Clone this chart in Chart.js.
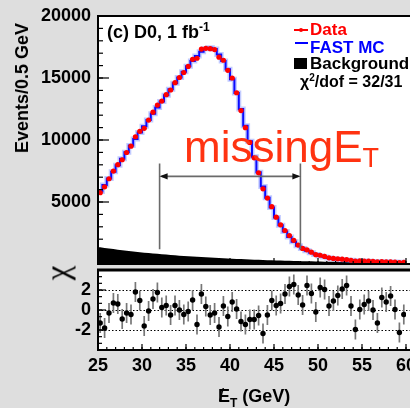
<!DOCTYPE html>
<html><head><meta charset="utf-8">
<script src="https://cdn.jsdelivr.net/npm/chart.js@4.4.1/dist/chart.umd.min.js"></script>
<style>
html,body{margin:0;padding:0;background:#dedede;}
#wrap{position:relative;width:410px;height:408px;overflow:hidden;background:#dedede;font-family:"Liberation Sans",Arial,sans-serif;}
canvas{position:absolute;left:0;}
.t{position:absolute;white-space:nowrap;line-height:1;}
.b{font-weight:bold;}
.mk{position:absolute;}
</style></head><body>
<div id="wrap">
<canvas id="topc" width="410" height="268" style="top:0px"></canvas>
<canvas id="chic" width="410" height="142" style="top:266px"></canvas>

<div class="t b" style="left:22px;top:88px;font-size:18px;transform:translate(-50%,-50%) rotate(-90deg);">Events/0.5 GeV</div>
<div class="t" style="left:58px;top:273px;font-size:33px;font-family:'Liberation Serif',serif;transform:translate(-50%,-50%) rotate(-90deg);">χ</div>

<div class="t b" style="left:107px;top:23px;font-size:18px;">(c) D0, 1 fb<span style="font-size:12px;position:relative;top:-7px;">-1</span></div>

<div class="mk" style="left:294px;top:29px;width:14px;height:2px;background:#ff0000;"></div>
<div class="mk" style="left:299px;top:28px;width:4px;height:4px;border-radius:2px;background:#ff0000;"></div>
<div class="t b" style="left:310px;top:20.6px;font-size:17px;color:#ff0000;">Data</div>
<div class="mk" style="left:295px;top:42px;width:13px;height:2px;background:#0000ff;"></div>
<div class="t b" style="left:310px;top:38.8px;font-size:17px;color:#0000ff;">FAST MC</div>
<div class="mk" style="left:294px;top:58px;width:13px;height:11px;background:#000;"></div>
<div class="t b" style="left:310px;top:54.5px;font-size:17px;color:#000;">Background</div>
<div class="t b" style="left:300px;top:73.5px;font-size:16px;color:#000;">χ<span style="font-size:10px;position:relative;top:-6px;">2</span>/dof = 32/31</div>

<div class="t" style="left:184px;top:125px;font-size:44px;color:#ff3311;">missingE<span style="font-size:27px;position:relative;top:5px;">T</span></div>

<div class="t b" style="left:218px;top:387px;font-size:18px;"><span style="position:relative;">E<span style="position:absolute;left:1px;top:0px;font-weight:normal;">/</span></span><span style="font-size:12px;position:relative;top:5px;">T</span> (GeV)</div>
</div>
<script>
// ---------------- data ----------------
const binCenters = [25.25,25.75,26.25,26.75,27.25,27.75,28.25,28.75,29.25,29.75,
30.25,30.75,31.25,31.75,32.25,32.75,33.25,33.75,34.25,34.75,
35.25,35.75,36.25,36.75,37.25,37.75,38.25,38.75,39.25,39.75,
40.25,40.75,41.25,41.75,42.25,42.75,43.25,43.75,44.25,44.75,
45.25,45.75,46.25,46.75,47.25,47.75,48.25,48.75,49.25,49.75,
50.25,50.75,51.25,51.75,52.25,52.75,53.25,53.75,54.25,54.75,
55.25,55.75,56.25,56.75,57.25,57.75,58.25,58.75,59.25,59.75];
const dataCounts = [5751,6226,6875,7490,8014,8407,8991,9506,10261,10698,
10941,11609,12241,12817,13139,13652,14031,14624,15040,15444,
15931,16508,16592,17329,17396,17364,17291,16679,16431,15619,
14998,13812,12371,10996,9806,8562,7353,6064,5313,4625,
3777,3156,2702,2290,1907,1527,1258,1141,950,754,
706,609,499,449,414,390,364,302,240,253,
243,234,206,176,200,183,182,157,122,137];
const fastMC = [5850,6370,6900,7430,7960,8490,9020,9550,10080,10600,
11110,11620,12120,12620,13110,13600,14090,14570,15040,15500,
15950,16380,16780,17120,17350,17430,17330,16900,16380,15700,
14900,13800,12500,11150,9900,8650,7400,6250,5350,4560,
3750,3120,2620,2180,1800,1470,1240,1060,900,760,
650,560,490,430,385,350,320,295,272,252,
235,220,206,194,183,173,164,156,149,142];
const background = [1350,1300,1250,1200,1155,1110,1070,1030,990,950,
915,880,850,820,790,760,730,700,675,650,
625,600,580,560,540,520,500,480,462,445,
428,412,396,381,366,352,338,325,312,300,
289,278,267,257,247,238,229,220,212,204,
196,189,182,175,168,162,156,150,145,140,
135,130,125,121,117,113,109,105,102,99];
const chiValues = [-1.3,-1.8,-0.3,0.7,0.6,-0.9,-0.3,-0.45,1.8,0.95,
-1.6,-0.1,1.1,1.75,0.25,0.45,-0.5,0.45,0,-0.45,
-0.15,1.0,-1.45,1.6,0.35,-0.5,-0.3,-1.7,0.4,-0.65,
0.8,0.1,-1.15,-1.45,-0.95,-0.95,-0.55,-2.35,-0.5,0.95,
0.45,0.65,1.6,2.35,2.55,1.5,0.5,2.45,1.65,-0.2,
2.25,2.05,0.4,0.9,1.45,2.1,2.45,0.4,-1.95,0.05,
0.55,0.9,0,-1.3,1.25,0.8,1.4,0.05,-2.25,-0.45];
const xRange = [25, 60];
const xTickLabels = [25,30,35,40,45,50,55,60];
const yTopTickLabels = [5000,10000,15000,20000];
const chiTickLabels = [-2,0,2];
const chiGridLines = [-2,0,2];
const fitRange = [32, 48];          // GeV, arrow annotation
const arrowLevels = {arrow: 7070, lineTop: 8100, lineBottom: 1190};
const binHalfWidth = 0.25;

// ---------------- helpers ----------------
const FONT = "'Liberation Sans', Arial, sans-serif";
const edgeSeries = (vals) => [{x: xRange[0], y: vals[0]}]
  .concat(binCenters.map((c, i) => ({x: c, y: vals[i]})))
  .concat([{x: xRange[1], y: vals[vals.length - 1]}]);

function fixAxis(width, height) {
  return function (s) {
    if (width !== undefined) s.width = width;
    if (height !== undefined) s.height = height;
    s.paddingLeft = 0; s.paddingRight = 0; s.paddingTop = 0; s.paddingBottom = 0;
  };
}
function range(a, b, step) { const r = []; for (let v = a; v <= b + 1e-9; v += step) r.push(v); return r; }

const rootFrame = {
  id: 'rootFrame',
  beforeDraw(chart, args, o) {
    const {ctx, chartArea: a} = chart;
    ctx.save(); ctx.fillStyle = '#ffffff';
    ctx.fillRect(a.left, a.top, chart.width - a.left, a.bottom - a.top);
    ctx.restore();
  },
  beforeDatasetsDraw(chart, args, o) {
    const {ctx, chartArea: a} = chart;
    const ys = chart.scales.y;
    if (o.grid) {
      ctx.save(); ctx.strokeStyle = '#000'; ctx.lineWidth = 1; ctx.setLineDash([1.5, 2]);
      o.grid.forEach(v => { const py = Math.round(ys.getPixelForValue(v)) + 0.5;
        ctx.beginPath(); ctx.moveTo(a.left, py); ctx.lineTo(chart.width, py); ctx.stroke(); });
      ctx.restore();
    }
  },
  afterDraw(chart, args, o) {
    const {ctx, chartArea: a} = chart;
    const xs = chart.scales.x, ys = chart.scales.y;
    ctx.save();
    ctx.strokeStyle = '#000';
    ctx.lineWidth = 1.2;
    (o.yMinor || []).forEach(v => { const py = ys.getPixelForValue(v);
      ctx.beginPath(); ctx.moveTo(a.left, py); ctx.lineTo(a.left + o.yMinorLen, py); ctx.stroke(); });
    (o.yMajor || []).forEach(v => { const py = ys.getPixelForValue(v);
      ctx.beginPath(); ctx.moveTo(a.left, py); ctx.lineTo(a.left + o.yMajorLen, py); ctx.stroke(); });
    (o.xMinor || []).forEach(v => { const px = xs.getPixelForValue(v);
      ctx.beginPath(); ctx.moveTo(px, a.bottom); ctx.lineTo(px, a.bottom - o.xMinorLen); ctx.stroke(); });
    (o.xMajor || []).forEach(v => { const px = xs.getPixelForValue(v);
      ctx.beginPath(); ctx.moveTo(px, a.bottom); ctx.lineTo(px, a.bottom - o.xMajorLen); ctx.stroke(); });
    ctx.lineWidth = 2;
    ctx.beginPath(); ctx.moveTo(a.left, a.top); ctx.lineTo(a.left, a.bottom); ctx.stroke();
    ctx.lineWidth = o.topW; ctx.beginPath(); ctx.moveTo(a.left - 1, a.top); ctx.lineTo(chart.width, a.top); ctx.stroke();
    ctx.lineWidth = o.botW; ctx.beginPath(); ctx.moveTo(a.left - 1, a.bottom); ctx.lineTo(chart.width, a.bottom); ctx.stroke();
    ctx.restore();
  }
};

const dataErrors = {
  id: 'dataErrors',
  afterDatasetsDraw(chart) {
    const {ctx} = chart; const xs = chart.scales.x, ys = chart.scales.y;
    ctx.save(); ctx.strokeStyle = '#ff0000'; ctx.lineWidth = 1.6;
    binCenters.forEach((c, i) => {
      const n = dataCounts[i], e = Math.sqrt(n);
      const py = ys.getPixelForValue(n);
      ctx.beginPath();
      ctx.moveTo(xs.getPixelForValue(c - binHalfWidth), py); ctx.lineTo(xs.getPixelForValue(c + binHalfWidth), py);
      ctx.moveTo(xs.getPixelForValue(c), ys.getPixelForValue(n - e)); ctx.lineTo(xs.getPixelForValue(c), ys.getPixelForValue(n + e));
      ctx.stroke();
    });
    // fit-range arrow annotation
    const x1 = xs.getPixelForValue(fitRange[0]), x2 = xs.getPixelForValue(fitRange[1]);
    const yA = ys.getPixelForValue(arrowLevels.arrow);
    const yT = ys.getPixelForValue(arrowLevels.lineTop), yB = ys.getPixelForValue(arrowLevels.lineBottom);
    ctx.strokeStyle = '#6a6a6a'; ctx.lineWidth = 1.6;
    ctx.beginPath();
    ctx.moveTo(x1, yT); ctx.lineTo(x1, yB);
    ctx.moveTo(x2, yT); ctx.lineTo(x2, yB);
    ctx.moveTo(x1 + 2, yA); ctx.lineTo(x2 - 2, yA);
    ctx.stroke();
    ctx.fillStyle = '#111';
    ctx.beginPath(); ctx.moveTo(x1, yA); ctx.lineTo(x1 + 8, yA - 3.2); ctx.lineTo(x1 + 8, yA + 3.2); ctx.closePath(); ctx.fill();
    ctx.beginPath(); ctx.moveTo(x2, yA); ctx.lineTo(x2 - 8, yA - 3.2); ctx.lineTo(x2 - 8, yA + 3.2); ctx.closePath(); ctx.fill();
    ctx.restore();
  }
};

const chiErrors = {
  id: 'chiErrors',
  beforeDatasetsDraw(chart) {
    const {ctx} = chart; const xs = chart.scales.x, ys = chart.scales.y;
    ctx.save(); ctx.strokeStyle = '#777'; ctx.lineWidth = 1.7;
    binCenters.forEach((c, i) => {
      const px = xs.getPixelForValue(c);
      ctx.beginPath(); ctx.moveTo(px, ys.getPixelForValue(chiValues[i] - 1)); ctx.lineTo(px, ys.getPixelForValue(chiValues[i] + 1)); ctx.stroke();
    });
    ctx.restore();
  }
};

// ---------------- top panel ----------------
new Chart(document.getElementById('topc'), {
  type: 'line',
  data: {
    datasets: [
      { label: 'Data', data: binCenters.map((c, i) => ({x: c, y: dataCounts[i]})), showLine: false,
        pointRadius: 2.6, pointBackgroundColor: '#ff0000', pointBorderWidth: 0, pointStyle: 'circle' },
      { label: 'FAST MC', data: edgeSeries(fastMC), stepped: 'middle', borderColor: '#0a0aff', borderWidth: 2,
        pointRadius: 0, fill: false },
      { label: 'MC halo', data: edgeSeries(fastMC), stepped: 'middle', borderColor: 'rgba(120,140,255,0.45)', borderWidth: 5,
        pointRadius: 0, fill: false },
      { label: 'Background', data: edgeSeries(background), borderWidth: 0, borderColor: '#000',
        backgroundColor: '#000', pointRadius: 0, fill: 'origin', tension: 0 }
    ]
  },
  options: {
    responsive: false, animation: false, devicePixelRatio: 1,
    layout: { padding: {left: 0, top: 16, right: 4, bottom: 1} },
    plugins: { legend: {display: false}, tooltip: {enabled: false},
      rootFrame: { yMajor: range(0, 20000, 5000), yMinor: range(0, 20000, 1000), yMajorLen: 11, yMinorLen: 5,
                   xMajor: range(25, 60, 5), xMinor: range(25, 60, 1), xMajorLen: 6, xMinorLen: 3, topW: 2, botW: 2 } },
    scales: {
      x: { type: 'linear', min: xRange[0], max: xRange[1], display: false, afterFit: fixAxis(undefined, 0) },
      y: { type: 'linear', min: 0, max: 20000, afterFit: fixAxis(98),
        afterBuildTicks: s => { s.ticks = yTopTickLabels.map(v => ({value: v})); },
        grid: {display: false, drawTicks: false}, border: {display: false},
        ticks: { color: '#000', padding: 7, font: {family: FONT, size: 18, weight: 'bold'},
                 callback: v => String(v) } }
    }
  },
  plugins: [rootFrame, dataErrors]
});

// ---------------- chi panel ----------------
new Chart(document.getElementById('chic'), {
  type: 'scatter',
  data: { datasets: [ { label: 'chi', data: binCenters.map((c, i) => ({x: c, y: chiValues[i]})),
    pointRadius: 2.7, pointBackgroundColor: '#000', pointBorderWidth: 0 } ] },
  options: {
    responsive: false, animation: false, devicePixelRatio: 1,
    layout: { padding: {left: 0, top: 1, right: 4, bottom: 0} },
    plugins: { legend: {display: false}, tooltip: {enabled: false},
      rootFrame: { grid: chiGridLines, yMajor: range(-4, 4, 2), yMinor: range(-4, 4, 2/3), yMajorLen: 8, yMinorLen: 4,
                   xMajor: range(25, 60, 5), xMinor: range(25, 60, 1), xMajorLen: 6, xMinorLen: 3, topW: 3, botW: 2 } },
    scales: {
      x: { type: 'linear', min: xRange[0], max: xRange[1], afterFit: fixAxis(undefined, 58),
        afterBuildTicks: s => { s.ticks = xTickLabels.map(v => ({value: v})); },
        grid: {display: false, drawTicks: false}, border: {display: false},
        ticks: { color: '#000', padding: 5, maxRotation: 0, autoSkip: false,
                 font: {family: FONT, size: 18, weight: 'bold'}, callback: v => String(v) } },
      y: { type: 'linear', min: -4, max: 4, afterFit: fixAxis(98),
        afterBuildTicks: s => { s.ticks = chiTickLabels.map(v => ({value: v})); },
        grid: {display: false, drawTicks: false}, border: {display: false},
        ticks: { color: '#000', padding: 7, font: {family: FONT, size: 18, weight: 'bold'},
                 callback: v => String(v) } }
    }
  },
  plugins: [rootFrame, chiErrors]
});
</script>
</body></html>
